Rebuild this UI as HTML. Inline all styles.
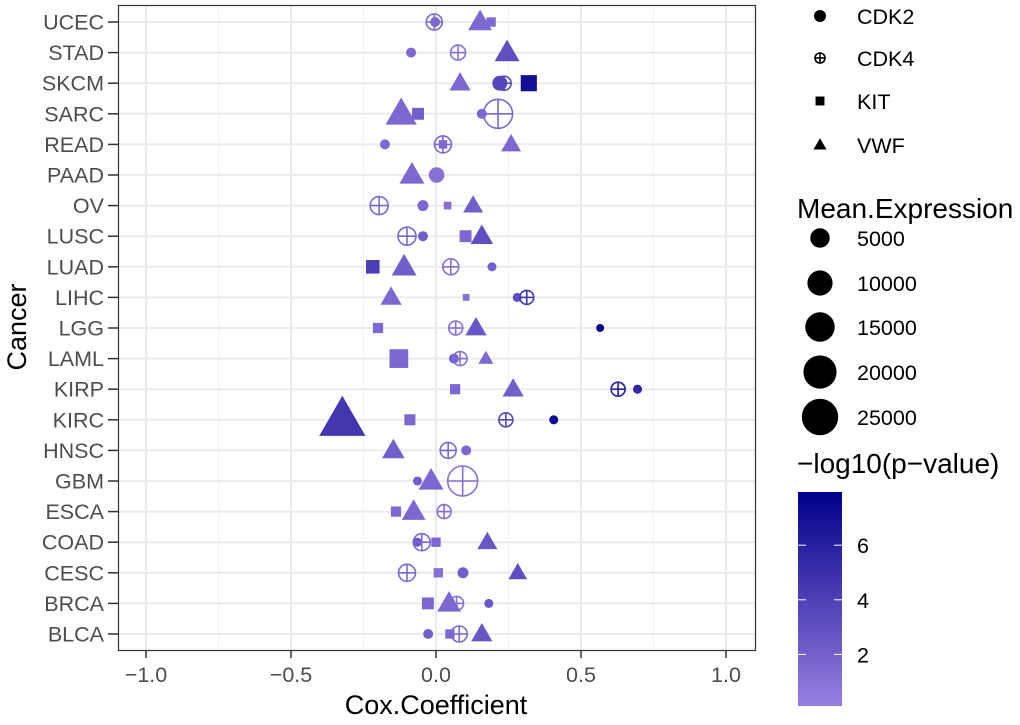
<!DOCTYPE html>
<html><head><meta charset="utf-8"><style>
body{margin:0;background:#fff;}
svg{font-family:"Liberation Sans",Arial,sans-serif;}
</style></head><body>
<svg id="chart" width="1020" height="720" viewBox="0 0 1020 720" xmlns="http://www.w3.org/2000/svg">
<defs>
<linearGradient id="cbar" x1="0" y1="1" x2="0" y2="0">
<stop offset="0" stop-color="#9A7FE0"/><stop offset="1" stop-color="#00008B"/>
</linearGradient>
</defs>
<g id="grid"></g>
<g id="marks"></g>
<rect x="118.5" y="5.5" width="637" height="645" fill="none" stroke="#333" stroke-width="1.2"/>
<g id="axes"></g>
<text x="436" y="714" font-size="27" text-anchor="middle" fill="#000">Cox.Coefficient</text>
<text transform="translate(26,327) rotate(-90)" font-size="27" text-anchor="middle" fill="#000">Cancer</text>
<g id="legend"></g>
</svg>
<script>
const cancers=["UCEC","STAD","SKCM","SARC","READ","PAAD","OV","LUSC","LUAD","LIHC","LGG","LAML","KIRP","KIRC","HNSC","GBM","ESCA","COAD","CESC","BRCA","BLCA"];
const xTicks=[-1.0,-0.5,0.0,0.5,1.0];
const xTickLabels=["\u22121.0","\u22120.5","0.0","0.5","1.0"];
const genes=["CDK2","CDK4","KIT","VWF"];
const cdk2Coef=[-0.003,-0.086,0.22,0.158,-0.176,0.002,-0.045,-0.045,0.193,0.28,0.566,0.062,0.695,0.406,0.104,-0.064,-0.077,-0.064,0.093,0.182,-0.027];
const cdk2Expr=[530,530,2280,530,530,1825,770,530,350,350,200,530,350,350,530,350,350,350,770,350,530];
const cdk2LogP=[1.5,1.5,3.5,1.5,1.5,0.8,1.5,2,2,3,7.8,2,5.5,7,1.5,2,1.5,2.5,2,2.5,2];
const cdk4Coef=[-0.006,0.076,0.235,0.214,0.024,0.002,-0.196,-0.1,0.051,0.313,0.068,0.083,0.628,0.241,0.042,0.092,0.028,-0.049,-0.1,0.071,0.08];
const cdk4Expr=[3980,3360,2795,16950,4650,2795,5380,5380,3980,2795,2795,2795,2795,2795,3980,18300,2795,4650,4650,2795,3980];
const cdk4LogP=[1.5,1,3.5,1.5,1.5,1,1.5,1.5,1,4.5,1,1,6,3.5,1.5,1,1,1.5,1.5,1,1.5];
const kitCoef=[0.19,0.245,0.32,-0.062,0.024,0.002,0.04,0.102,-0.218,0.104,-0.2,-0.128,0.066,-0.09,-0.147,-0.017,-0.138,0.0,0.008,-0.028,0.048];
const kitExpr=[770,530,4650,1825,530,530,350,1825,2795,200,1070,7000,1070,1420,200,200,1070,770,770,1825,770];
const kitLogP=[1.5,3,7,2,1.5,1,1,1.5,4,1,1.5,1.5,1.5,1.5,1.5,1.5,1.5,1.5,1,1.5,1.5];
const vwfCoef=[0.152,0.245,0.083,-0.12,0.259,-0.083,0.128,0.158,-0.11,-0.155,0.138,0.172,0.266,-0.323,-0.147,-0.017,-0.077,0.177,0.282,0.045,0.158];
const vwfExpr=[4650,5380,3360,9830,2795,5380,2795,3980,5380,3360,3360,1070,3360,26000,3980,5380,4650,2795,2280,4650,3360];
const vwfLogP=[1.5,3,1.5,1.5,1.5,1.5,2,3,2,1.5,2.5,1.5,2,4.5,2,1.5,1.5,2.5,3,1.5,2.5];
const sizeBreaks=[5000,10000,15000,20000,25000];
const colorTicks=[2,4,6];

const NS="http://www.w3.org/2000/svg";
function mk(tag,attrs,parent){const e=document.createElementNS(NS,tag);for(const k in attrs)e.setAttribute(k,attrs[k]);parent.appendChild(e);return e;}
const xScale=v=>436+v*290;
const yScale=i=>22+i*30.6;
const dScale=v=>6+31*Math.sqrt(Math.max(0,(v-100)/25900));
function col(p){const t=Math.max(0,Math.min(1,p/7.95));const a=[0x9A,0x7F,0xE0],b=[0x00,0x00,0x8B];return "rgb("+a.map((c,i)=>Math.round(c+(b[i]-c)*t)).join(",")+")";}
const cbY=p=>709-p*27.3;

const grid=document.getElementById('grid');
[-0.75,-0.25,0.25,0.75].forEach(v=>{const l=mk('line',{x1:xScale(v),x2:xScale(v),y1:6,y2:650,stroke:'#F2F2F2','stroke-width':1},grid);

});
xTicks.forEach(v=>{const l=mk('line',{x1:xScale(v),x2:xScale(v),y1:6,y2:650,stroke:'#EBEBEB','stroke-width':2},grid);

});
cancers.forEach((c,i)=>{const l=mk('line',{x1:119,x2:755,y1:yScale(i),y2:yScale(i),stroke:'#EBEBEB','stroke-width':2},grid);

});

const axes=document.getElementById('axes');
cancers.forEach((c,i)=>{const t=mk('text',{x:104,y:yScale(i)+7.5,'font-size':21.5,'text-anchor':'end',fill:'#4D4D4D'},axes);t.textContent=c;


const tk=mk('line',{x1:108,x2:118,y1:yScale(i),y2:yScale(i),stroke:'#333','stroke-width':1.5},axes);

});
xTicks.forEach((v,i)=>{const t=mk('text',{x:xScale(v),y:682,'font-size':21.5,'text-anchor':'middle',fill:'#4D4D4D'},axes);t.textContent=xTickLabels[i];


const tk=mk('line',{x1:xScale(v),x2:xScale(v),y1:651,y2:658,stroke:'#333','stroke-width':1.5},axes);

});

function drawShape(g,shape,cx,cy,d,fill){
  let e;
  if(shape===0){e=mk('circle',{cx:cx,cy:cy,r:d/2,fill:fill},g);}
  else if(shape===1){e=mk('g',{},g);const r=d/2-1;
    mk('circle',{cx:cx,cy:cy,r:r,fill:'none',stroke:fill,'stroke-width':1.6},e);
    mk('line',{x1:cx-r,x2:cx+r,y1:cy,y2:cy,stroke:fill,'stroke-width':1.6},e);
    mk('line',{x1:cx,x2:cx,y1:cy-r,y2:cy+r,stroke:fill,'stroke-width':1.6},e);}
  else if(shape===2){const s=d*0.85;e=mk('rect',{x:cx-s/2,y:cy-s/2,width:s,height:s,fill:fill},g);}
  else {const w=d*1.25,h=w*0.866;e=mk('polygon',{points:`${cx-w/2},${cy+h*0.4} ${cx+w/2},${cy+h*0.4} ${cx},${cy-h*0.6}`,fill:fill},g);}
  return e;
}
const marks=document.getElementById('marks');
const series=[[cdk2Coef,cdk2Expr,cdk2LogP],[cdk4Coef,cdk4Expr,cdk4LogP],[kitCoef,kitExpr,kitLogP],[vwfCoef,vwfExpr,vwfLogP]];
series.forEach((s,gi)=>{
  cancers.forEach((c,i)=>{
    const e=drawShape(marks,gi,xScale(s[0][i]),yScale(i),dScale(s[1][i]),col(s[2][i]));
    
    
  });
});

const lg=document.getElementById('legend');
const shapeY=[16,58,101,145];
const keySize=[12,12,10.5,10.5];
genes.forEach((g,i)=>{const e=drawShape(lg,i,820,shapeY[i],keySize[i],'#000');


const t=mk('text',{x:857,y:shapeY[i]+8,'font-size':21.5,fill:'#000'},lg);t.textContent=g;

});
const t1=mk('text',{x:797,y:218,'font-size':28,fill:'#000'},lg);t1.textContent='Mean.Expression';


const sizeY=[238,283,327,372,417];
sizeBreaks.forEach((v,i)=>{const c=mk('circle',{cx:820,cy:sizeY[i],r:dScale(v)/2,fill:'#000'},lg);


const t=mk('text',{x:857,y:sizeY[i]+8,'font-size':21.5,fill:'#000'},lg);t.textContent=v;

});
const t2=mk('text',{x:797,y:473,'font-size':28,fill:'#000'},lg);t2.textContent='\u2212log10(p\u2212value)';


const cb=mk('rect',{x:798,y:492,width:44,height:214,fill:'url(#cbar)'},lg);


colorTicks.forEach(v=>{const y=cbY(v);
mk('line',{x1:798,x2:806,y1:y,y2:y,stroke:'#fff','stroke-width':1},lg);
mk('line',{x1:834,x2:842,y1:y,y2:y,stroke:'#fff','stroke-width':1},lg);
const t=mk('text',{x:857,y:y+8,'font-size':21.5,fill:'#000'},lg);t.textContent=v;

});
</script>
</body></html>
